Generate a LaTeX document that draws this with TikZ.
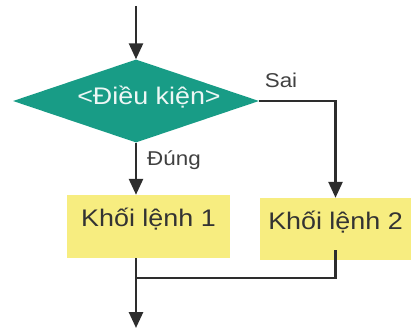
\documentclass[tikz,border=0pt]{standalone}
\usepackage{fontspec}
\setmainfont{Liberation Sans}[FakeStretch=1.12]
\usetikzlibrary{shapes.geometric, arrows.meta}

\definecolor{condteal}{RGB}{24,156,134}
\definecolor{blockyellow}{RGB}{247,237,128}
\definecolor{linegray}{RGB}{45,45,45}

\begin{document}
\begin{tikzpicture}[
        x=1pt, y=-1pt,
        decision/.style={shape=diamond, aspect=3, fill=condteal, inner sep=0pt, minimum width=246pt, minimum height=83pt},
        block/.style={fill=blockyellow, inner sep=0pt, text=black!80, font=\fontsize{24}{27}\selectfont, text height=17pt, text depth=17pt},
        lbl/.style={text=black!75, font=\fontsize{20}{24}\selectfont, inner sep=0pt},
        line/.style={draw=linegray, line width=2.6pt},
        arr/.style={line, -{Triangle[length=16pt, width=14pt]}}
    ]
        \useasboundingbox (0,0) rectangle (411,329);
        \node[decision] (cond) at (136,101) {};
        \node[text=white!92!condteal, font=\fontsize{24}{27}\selectfont, inner sep=0pt] (condtext) at (149,97) {<Điều kiện>};
        \node[block, minimum width=163pt, minimum height=63pt] (box1) at (148.5,226.5) {Khối lệnh 1};
        \node[block, minimum width=151pt, minimum height=62pt] (box2) at (335.5,229) {Khối lệnh 2};
        \node[lbl] (sai) at (281,80) {Sai};
        \node[lbl] (dung) at (174,160) {Đúng};
        \coordinate (start) at (136,6);
        \coordinate (merge) at (136,278);
        \coordinate (stop) at (136,328);
        \draw[arr] (start) -- (cond.north);
        \draw[arr] (cond.south) -- (cond.south |- box1.north);
        \draw[arr] (cond.east) -| (box2.north);
        \draw[line] ([yshift=10pt]box2.south) |- (merge);
        \draw[arr] (merge |- box1.south) -- (stop);
    \end{tikzpicture}
\end{document}
